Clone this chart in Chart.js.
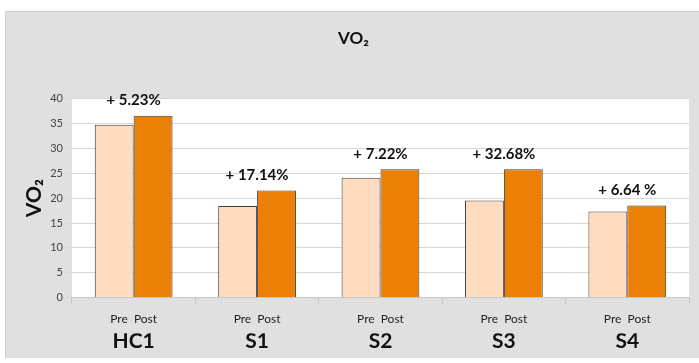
<!DOCTYPE html>
<html>
<head>
<meta charset="utf-8">
<script src="https://cdn.jsdelivr.net/npm/chart.js@4/dist/chart.umd.min.js"></script>
<style>
  body { margin: 0; background: #fff; }
  #wrap {
    position: absolute; left: 5px; top: 11px;
    width: 694px; height: 347px;
    background: #e0e0e0;
    border-top: 1px solid #cfcfcf; border-left: 1px solid #cfcfcf;
    box-sizing: border-box;
  }
</style>
</head>
<body>
<div id="wrap"><canvas id="chart"></canvas></div>
<script>
const groups = ["HC1", "S1", "S2", "S3", "S4"];
const phaseLabels = ["Pre  Post", "Pre  Post", "Pre  Post", "Pre  Post", "Pre  Post"];
const preValues = [34.7, 18.4, 24.1, 19.5, 17.3];
const postValues = [36.5, 21.5, 25.8, 25.8, 18.5];
const changeLabels = ["+ 5.23%", "+ 17.14%", "+ 7.22%", "+ 32.68%", "+ 6.64 %"];

const FONT = "Lato, 'Liberation Sans', sans-serif";

// white plot area on the gray panel
const plotBackground = {
  id: "plotBackground",
  beforeDraw(chart) {
    const { ctx, chartArea: a } = chart;
    ctx.save();
    ctx.fillStyle = "#ffffff";
    ctx.fillRect(a.left, a.top, a.right - a.left, a.bottom - a.top);
    ctx.restore();
  },
};

// "+ x.xx%" above each pair of bars
const changeText = {
  id: "changeText",
  afterDatasetsDraw(chart) {
    const { ctx } = chart;
    const x = chart.scales.x;
    const y = chart.scales.y;
    ctx.save();
    ctx.font = "bold 15px " + FONT;
    ctx.fillStyle = "#111";
    ctx.textAlign = "center";
    ctx.textBaseline = "bottom";
    changeLabels.forEach((txt, i) => {
      const top = Math.max(preValues[i], postValues[i]);
      ctx.fillText(txt, x.getPixelForValue(i), y.getPixelForValue(top) - 8);
    });
    ctx.restore();
  },
};

new Chart(document.getElementById("chart"), {
  type: "bar",
  data: {
    labels: phaseLabels,
    datasets: [
      {
        label: "Pre",
        data: preValues,
        backgroundColor: "#fddcc0",
        borderColor: "#404040",
        borderWidth: 1,
        categoryPercentage: 0.63,
        barPercentage: 1.0,
      },
      {
        label: "Post",
        data: postValues,
        backgroundColor: "#ec7f05",
        borderColor: "#404040",
        borderWidth: 1,
        categoryPercentage: 0.63,
        barPercentage: 1.0,
      },
    ],
  },
  options: {
    responsive: true,
    maintainAspectRatio: false,
    animation: false,
    layout: { padding: { left: 12, right: 10, top: 0, bottom: 8 } },
    plugins: {
      legend: { display: false },
      tooltip: { enabled: false },
      title: {
        display: true,
        text: "VO₂",
        color: "#111",
        font: { family: FONT, size: 17, weight: "bold" },
        padding: { top: 16, bottom: 50 },
      },
    },
    scales: {
      x: {
        position: "bottom",
        grid: {
          offset: true,
          drawOnChartArea: false,
          drawTicks: true,
          tickLength: 7,
          color: "#c8c8c8",
        },
        border: { color: "#c8c8c8" },
        ticks: {
          color: "#222",
          font: { family: FONT, size: 12 },
          padding: 7,
        },
      },
      x2: {
        type: "category",
        position: "bottom",
        labels: groups,
        offset: true,
        grid: { display: false, drawTicks: false },
        border: { display: false },
        ticks: {
          color: "#111",
          font: { family: FONT, size: 21, weight: "bold", lineHeight: 0.8 },
          padding: 0,
        },
      },
      y: {
        min: 0,
        max: 40,
        ticks: {
          stepSize: 5,
          color: "#444",
          font: { family: FONT, size: 11 },
          padding: 3,
        },
        grid: { color: "#d6d6d6", tickLength: 6 },
        border: { display: false },
        title: {
          display: true,
          text: "VO₂",
          color: "#111",
          font: { family: FONT, size: 21, weight: "bold" },
          padding: { bottom: 0 },
        },
      },
    },
  },
  plugins: [plotBackground, changeText],
});
</script>
</body>
</html>
